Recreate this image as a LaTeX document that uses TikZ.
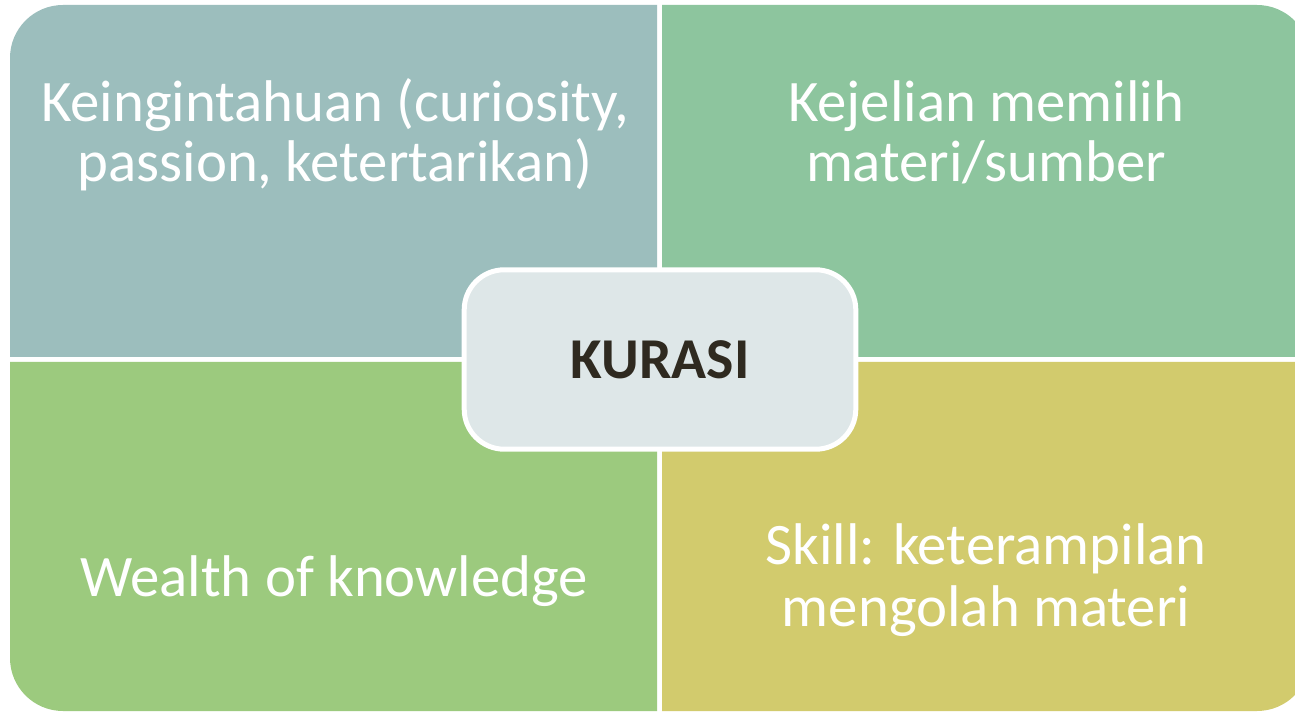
\documentclass[tikz,border=0pt]{standalone}
\usepackage{fontspec}
\setmainfont{Carlito}
\definecolor{tlc}{HTML}{9CBEBD}
\definecolor{trc}{HTML}{8DC59E}
\definecolor{blc}{HTML}{9CCA7E}
\definecolor{brc}{HTML}{D2CB6D}
\definecolor{cenc}{HTML}{DEE7E8}
\definecolor{txtc}{HTML}{2F2A20}
\tikzset{
  quadtext/.style={anchor=base, text=white, inner sep=0pt, font=\fontsize{58.8}{70}\selectfont},
  centerbox/.style={draw=white, line width=5pt, fill=cenc, rounded corners=40pt,
    minimum width=391.6pt, minimum height=179.4pt, inner sep=0pt,
    text=txtc, font=\fontsize{57.8}{68}\selectfont\bfseries}
}
\begin{document}
\begin{tikzpicture}[x=1pt,y=1pt]
\clip (0,0) rectangle (1295,712);
\fill[white] (0,0) rectangle (1295,712);
% quadrants
\fill[tlc] (657,355) -- (10,355) -- (10,654) arc[start angle=180, end angle=90, radius=53] -- (657,707) -- cycle;
\fill[trc] (662,355) -- (662,707) -- (1257,707) arc[start angle=90, end angle=0, radius=53] -- (1310,355) -- cycle;
\fill[blc] (657,350) -- (10,350) -- (10,54) arc[start angle=180, end angle=270, radius=53] -- (657,1) -- cycle;
\fill[brc] (662,350) -- (1310,350) -- (1310,54) arc[start angle=0, end angle=-90, radius=53] -- (662,1) -- cycle;
% texts
\node[quadtext] (tl1) at (335,590) {Keingintahuan (curiosity,};
\node[quadtext] (tl2) at (335,530) {passion, ketertarikan)};
\node[quadtext] (tr1) at (986,590) {Kejelian memilih};
\node[quadtext] (tr2) at (986,530) {materi/sumber};
\node[quadtext] (bl1) at (334,115) {Wealth of knowledge};
\node[quadtext] (br1) at (986,147) {Skill: keterampilan};
\node[quadtext] (br2) at (986,85) {mengolah materi};
% center
\node[centerbox] (kurasi) at (660,352.5) {KURASI};
\end{tikzpicture}
\end{document}
